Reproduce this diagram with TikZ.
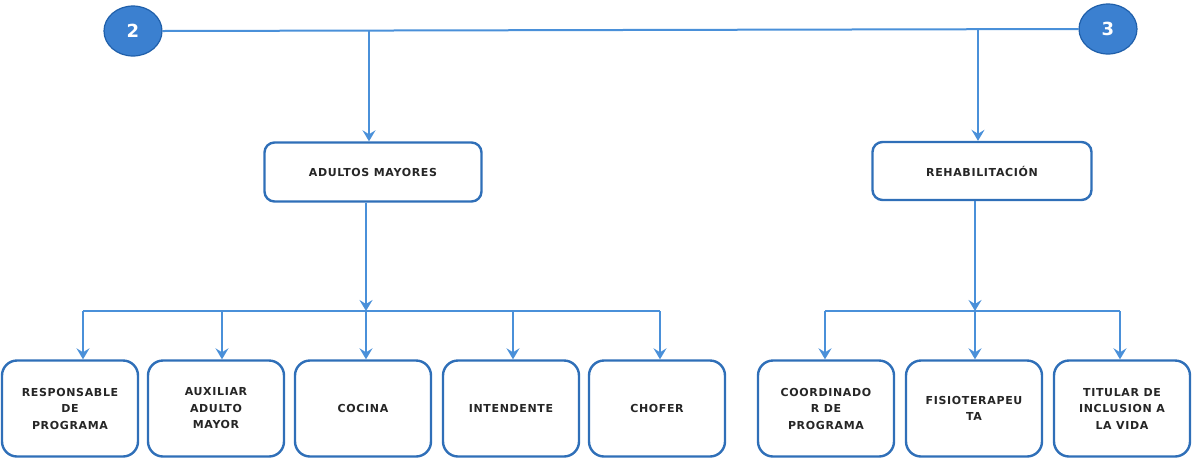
\documentclass[tikz,border=0pt]{standalone}
\usepackage{fontspec}
\setmainfont{DejaVu Sans}
\newfontfamily\boxfont[LetterSpace=6]{DejaVu Sans}
\usetikzlibrary{arrows.meta,calc,shapes.geometric}
\definecolor{lineblue}{HTML}{4A90D9}
\definecolor{boxblue}{HTML}{2F6FB8}
\definecolor{ballblue}{HTML}{3B80D0}
\definecolor{balledge}{HTML}{1F5FAA}
\tikzset{
  conn/.style={draw=lineblue, line width=2pt},
  arr/.style={conn, -{Stealth[length=11pt,width=13pt,inset=4pt]}},
  topbox/.style={draw=boxblue, line width=2.4pt, rounded corners=10pt, fill=white,
    minimum width=217pt, minimum height=59pt, inner sep=0pt,
    font=\boxfont\fontsize{11}{13}\selectfont\bfseries, text=black!85},
  botbox/.style={draw=boxblue, line width=2.4pt, rounded corners=15pt, fill=white,
    minimum width=136pt, minimum height=96pt, inner sep=0pt, align=center,
    font=\boxfont\fontsize{11}{16.5}\selectfont\bfseries, text=black!85},
  ball/.style={ellipse, draw=balledge, line width=1.2pt, fill=ballblue,
    minimum width=58pt, minimum height=50pt, inner sep=0pt, text=white,
    font=\fontsize{18}{20}\selectfont\bfseries}
}
\begin{document}
\begin{tikzpicture}[x=1pt,y=-1pt]
\useasboundingbox (0,0) rectangle (1192,459);
% balls
\node[ball] (c2) at (133,31) {2};
\node[ball] (c3) at (1108,29) {3};
\draw[conn] (c2.east) -- (c3.west);
\coordinate (t1) at (369,30);
\coordinate (t2) at (978,30);
% level 1 boxes
\node[topbox] (am) at (373,172) {ADULTOS MAYORES};
\node[topbox, minimum width=219pt, minimum height=58pt] (rh) at (982,171) {REHABILITACIÓN};
\draw[arr] (t1) -- (t1 |- am.north);
\draw[arr] (t2) -- (t2 |- rh.north);
% bottom boxes
\node[botbox] (b1) at (70,408.5) {RESPONSABLE\\DE\\PROGRAMA};
\node[botbox] (b2) at (216,408.5) {AUXILIAR\\ADULTO\\MAYOR};
\node[botbox] (b3) at (363,408.5) {COCINA};
\node[botbox] (b4) at (511,408.5) {INTENDENTE};
\node[botbox] (b5) at (657,408.5) {CHOFER};
\node[botbox] (b6) at (826,408.5) {COORDINADO\\R DE\\PROGRAMA};
\node[botbox] (b7) at (974,408.5) {FISIOTERAPEU\\TA};
\node[botbox] (b8) at (1122,408.5) {TITULAR DE\\INCLUSION A\\LA VIDA};
% adultos branch
\coordinate (ba) at (366,311);
\coordinate (baL) at (83,311);
\coordinate (baR) at (660,311);
\draw[arr] (ba |- am.south) -- (ba);
\draw[conn] (baL) -- (baR);
\foreach \x/\b in {83/b1,222/b2,366/b3,513/b4,660/b5}{
  \draw[arr] (\x,311) -- (\x,0 |- \b.north);
}
% rehab branch
\coordinate (br) at (975,311);
\draw[arr] (br |- rh.south) -- (br);
\draw[conn] (825,311) -- (1120,311);
\foreach \x/\b in {825/b6,975/b7,1120/b8}{
  \draw[arr] (\x,311) -- (\x,0 |- \b.north);
}
\end{tikzpicture}
\end{document}
